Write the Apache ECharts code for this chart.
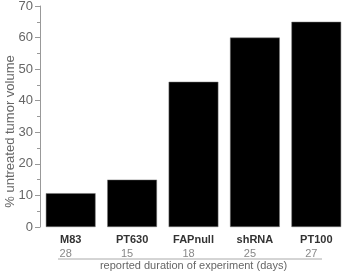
<!DOCTYPE html>
<html>
<head>
<meta charset="utf-8">
<script src="https://cdn.jsdelivr.net/npm/echarts@6/dist/echarts.min.js"></script>
<style>
  html, body { margin: 0; padding: 0; background: #fff; }
  #chart { width: 358px; height: 272px; }
</style>
</head>
<body>
<div id="chart"></div>
<script>
var categories = ['M83', 'PT630', 'FAPnull', 'shRNA', 'PT100'];
var durations = [28, 15, 18, 25, 27];
var tumorVolume = [10.7, 15, 46, 60, 65];

var myChart = echarts.init(document.getElementById('chart'));
var option = {
    animation: false,
    grid: { left: 40, right: 11, top: 6, bottom: 45, outerBoundsMode: 'none', containLabel: false },
    xAxis: {
        type: 'category',
        data: categories,
        axisLine: { show: false },
        axisTick: { show: false },
        axisLabel: {
            interval: 0,
            margin: 6,
            formatter: function (v, i) {
                return '{a|' + v + '}\n{b|' + durations[i] + '}';
            },
            rich: {
                a: { fontFamily: 'Liberation Sans', fontWeight: 'bold', fontSize: 11, color: '#333', lineHeight: 14 },
                b: { fontFamily: 'Liberation Sans', fontSize: 11, color: '#888', lineHeight: 14, padding: [0, 10, 0, 0] }
            }
        },
        name: 'reported duration of experiment (days)',
        nameLocation: 'middle',
        nameGap: 33,
        nameMoveOverlap: false,
        nameTextStyle: { fontFamily: 'Liberation Sans', fontSize: 11, color: '#666' }
    },
    yAxis: {
        type: 'value',
        min: 0,
        max: 70,
        interval: 10,
        splitLine: { show: false },
        axisLine: { show: true, lineStyle: { color: '#999', width: 1 } },
        axisTick: { show: true, length: 5, lineStyle: { color: '#999' } },
        minorTick: { show: true, splitNumber: 2, length: 3, lineStyle: { color: '#999' } },
        axisLabel: { fontFamily: 'Liberation Sans', fontSize: 13, color: '#666', margin: 7 },
        name: '% untreated tumor volume',
        nameLocation: 'middle',
        nameGap: 23,
        nameMoveOverlap: false,
        nameTextStyle: { fontFamily: 'Liberation Sans', fontSize: 13, color: '#666', padding: [0, 30, 0, 0] }
    },
    graphic: [{
        type: 'line',
        shape: { x1: 58, y1: 259, x2: 322, y2: 259 },
        style: { stroke: '#aaa', lineWidth: 1 }
    }],
    series: [{
        type: 'bar',
        data: tumorVolume,
        barCategoryGap: '19%',
        itemStyle: { color: '#000', borderColor: '#777', borderWidth: 0.5 }
    }]
};
myChart.setOption(option);
</script>
</body>
</html>
